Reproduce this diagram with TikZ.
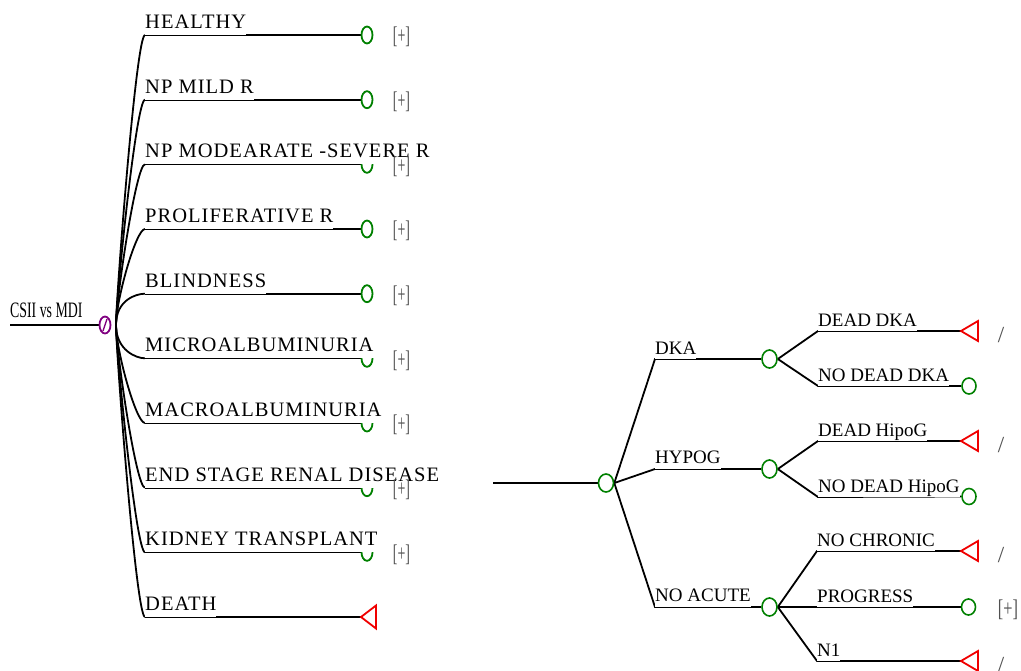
\documentclass[tikz,border=0pt]{standalone}
\usepackage{fontspec}
\setmainfont{Liberation Serif}
\newfontfamily\lfont[LetterSpace=5]{Liberation Serif}
\usetikzlibrary{shapes.geometric,calc}
\definecolor{tgreen}{RGB}{0,128,0}
\definecolor{tred}{RGB}{240,0,0}
\definecolor{tpurple}{RGB}{128,0,128}
\definecolor{tgray}{RGB}{80,80,80}
\pgfdeclarelayer{lines}
\pgfdeclarelayer{mid}
\pgfdeclarelayer{front}
\pgfsetlayers{lines,mid,main,front}
\begin{document}
\begin{tikzpicture}[x=1pt,y=-1pt,
  br/.style={line width=1.8pt, black},
  pnode/.style={ellipse, draw=tpurple, line width=1.8pt, minimum width=11pt, minimum height=17pt, inner sep=0pt},
  lchance/.style={ellipse, draw=tgreen, line width=1.8pt, minimum width=11pt, minimum height=17pt, inner sep=0pt},
  rchance/.style={ellipse, draw=tgreen, line width=1.6pt, minimum width=15pt, minimum height=18pt, inner sep=0pt},
  rterm/.style={ellipse, draw=tgreen, line width=1.6pt, minimum width=14pt, minimum height=16pt, inner sep=0pt},
  term/.style={draw=tred, line width=1.8pt, line join=miter},
  llab/.style={font=\lfont\fontsize{20.5}{24}\selectfont, anchor=base west, inner sep=0pt, fill=white, text depth=6.5pt, text height=16pt},
  rlab/.style={font=\fontsize{19}{23}\selectfont, anchor=base west, inner sep=0pt, fill=white, text depth=5pt, text height=15pt},
  lplus/.style={text=tgray, font=\fontsize{24}{26}\selectfont, inner sep=0pt, xscale=0.58},
  rplus/.style={text=tgray, font=\fontsize{24}{26}\selectfont, inner sep=0pt, xscale=0.68},
  slashlab/.style={text=tgray, font=\fontsize{23}{26}\selectfont, inner sep=0pt},
  rootlab/.style={font=\fontsize{22}{24}\selectfont, anchor=base west, inner sep=0pt, xscale=0.63}
]
\useasboundingbox (0,0) rectangle (1021,670);

% ---------------- left tree ----------------
\coordinate (r0) at (10,325);
\begin{pgfonlayer}{mid}
\node[pnode] (p0) at (105,325) {};
\draw[tpurple,line width=1.4pt] ($(p0.center)+(-2,6)$) -- ($(p0.center)+(2,-6)$);
\end{pgfonlayer}
\node[rootlab] (rt) at (10,317.3) {CSII vs MDI};
\coordinate (j0) at (116,325);

\coordinate (s1) at (145,35);
\coordinate (s2) at (145,99.7);
\coordinate (s3) at (145,164.3);
\coordinate (s4) at (145,229);
\coordinate (s5) at (145,293.7);
\coordinate (s6) at (145,358.3);
\coordinate (s7) at (145,423);
\coordinate (s8) at (145,487.7);
\coordinate (s9) at (145,552.3);
\coordinate (s10) at (145,617);

\begin{pgfonlayer}{mid}
\node[lchance] (e1) at (367,35) {};
\node[lchance] (e2) at (367,99.7) {};
\node[lchance] (e3) at (367,164.3) {};
\node[lchance] (e4) at (367,229) {};
\node[lchance] (e5) at (367,293.7) {};
\node[lchance] (e6) at (367,358.3) {};
\node[lchance] (e7) at (367,423) {};
\node[lchance] (e8) at (367,487.7) {};
\node[lchance] (e9) at (367,552.3) {};
\coordinate (d10) at (361,617);
\draw[term] (d10) -- ++(15,-11.5) -- ++(0,23) -- cycle;
\end{pgfonlayer}

\node[llab] (l1) at (145,28.5) {HEALTHY};
\node[llab] (l2) at (145,93.2) {NP MILD R};
\node[llab] (l3) at (145,157.8) {NP MODEARATE -SEVERE R};
\node[llab] (l4) at (145,222.5) {PROLIFERATIVE R};
\node[llab] (l5) at (145,287.2) {BLINDNESS};
\node[llab] (l6) at (145,351.8) {MICROALBUMINURIA};
\node[llab] (l7) at (145,416.5) {MACROALBUMINURIA};
\node[llab] (l8) at (145,481.2) {END STAGE RENAL DISEASE};
\node[llab] (l9) at (145,545.8) {KIDNEY TRANSPLANT};
\node[llab] (l10) at (145,610.5) {DEATH};

\begin{pgfonlayer}{front}
\node[lplus] (q1) at (401.5,37) {[+]};
\node[lplus] (q2) at (401.5,101.7) {[+]};
\node[lplus] (q3) at (401.5,166.3) {[+]};
\node[lplus] (q4) at (401.5,231) {[+]};
\node[lplus] (q5) at (401.5,295.7) {[+]};
\node[lplus] (q6) at (401.5,360.3) {[+]};
\node[lplus] (q7) at (401.5,425) {[+]};
\node[lplus] (q8) at (401.5,489.7) {[+]};
\node[lplus] (q9) at (401.5,554.3) {[+]};
\end{pgfonlayer}

\begin{pgfonlayer}{lines}
\draw[br] (r0) -- (p0.west);
\foreach \i in {1,...,5}{
  \draw[br] (j0) .. controls +(0,-25) and +(-9,0) .. (s\i);
}
\foreach \i in {6,...,10}{
  \draw[br] (j0) .. controls +(0,25) and +(-9,0) .. (s\i);
}
\foreach \i in {1,...,9}{
  \draw[br] (s\i) -- (e\i.west);
}
\draw[br] (s10) -- (d10);
\end{pgfonlayer}

% ---------------- right tree ----------------
\coordinate (g0) at (493,483);
\begin{pgfonlayer}{front}
\node[rchance] (c0) at (606,483) {};
\node[rchance] (c1) at (769.5,359) {};
\node[rchance] (c2) at (769.5,469) {};
\node[rchance] (c3) at (769.5,607) {};
\node[rterm] (k12) at (969,386) {};
\node[rterm] (k22) at (969,496.5) {};
\node[rterm] (k32) at (968.5,607) {};
\coordinate (k11) at (961,331);
\coordinate (k21) at (961,441);
\coordinate (k31) at (961,551);
\coordinate (k33) at (961,661);
\draw[term] (k11) -- ++(17,-10) -- ++(0,20) -- cycle;
\draw[term] (k21) -- ++(17,-10) -- ++(0,20) -- cycle;
\draw[term] (k31) -- ++(17,-10) -- ++(0,20) -- cycle;
\draw[term] (k33) -- ++(17,-10) -- ++(0,20) -- cycle;
\node[slashlab] (z1) at (1001,335.5) {/};
\node[slashlab] (z2) at (1001,445) {/};
\node[slashlab] (z3) at (1001,555) {/};
\node[slashlab] (z4) at (1001,665) {/};
\node[rplus] (z5) at (1008,610) {[+]};
\end{pgfonlayer}

\coordinate (a1) at (655,359);
\coordinate (a2) at (655,469);
\coordinate (a3) at (655,607);
\coordinate (b11) at (818,331);
\coordinate (b12) at (818,386);
\coordinate (b21) at (818,441);
\coordinate (b22) at (818,497);
\coordinate (b31) at (817,551);
\coordinate (b32) at (817,607);
\coordinate (b33) at (817,661);

\node[rlab] (m1) at (655,354) {DKA};
\node[rlab] (m2) at (655,463.5) {HYPOG};
\node[rlab] (m3) at (655,601.8) {NO ACUTE};
\node[rlab] (m11) at (818,326) {DEAD DKA};
\node[rlab] (m12) at (818,381) {NO DEAD DKA};
\node[rlab] (m21) at (818,436) {DEAD HipoG};
\node[rlab] (m22) at (818,492) {NO DEAD HipoG};
\node[rlab] (m31) at (817,546) {NO CHRONIC};
\node[rlab] (m32) at (817,602) {PROGRESS};
\node[rlab] (m33) at (817,656) {N1};

\begin{pgfonlayer}{lines}
\draw[br] (g0) -- (c0.west);
\draw[br] (c0.east) -- (a1) -- (c1.west);
\draw[br] (c0.east) -- (a2) -- (c2.west);
\draw[br] (c0.east) -- (a3) -- (c3.west);
\draw[br] (c1.east) -- (b11) -- (k11);
\draw[br] (c1.east) -- (b12) -- (k12.west);
\draw[br] (c2.east) -- (b21) -- (k21);
\draw[br] (c2.east) -- (b22) -- (k22.west);
\draw[br] (c3.east) -- (b31) -- (k31);
\draw[br] (c3.east) -- (b32) -- (k32.west);
\draw[br] (c3.east) -- (b33) -- (k33);
\end{pgfonlayer}
\end{tikzpicture}
\end{document}
